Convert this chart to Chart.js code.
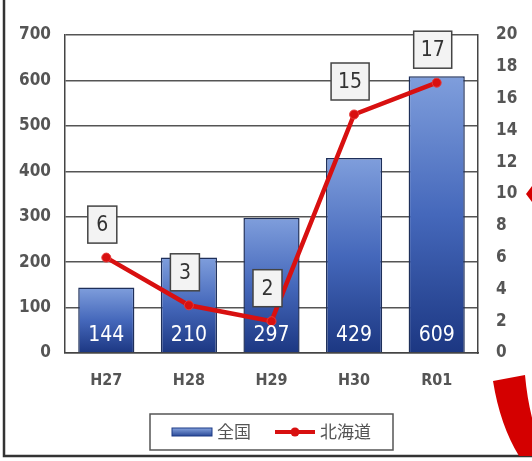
<!DOCTYPE html>
<html>
<head>
<meta charset="utf-8">
<script src="https://cdn.jsdelivr.net/npm/chart.js@4.4.0/dist/chart.umd.min.js"></script>
<style>
  html, body { margin: 0; padding: 0; background: #fff; }
  #wrap { width: 532px; height: 461px; position: relative; }
</style>
</head>
<body>
<div id="wrap"><canvas id="myChart" width="532" height="461"></canvas></div>
<script>
// data
var years = ['H27', 'H28', 'H29', 'H30', 'R01'];
var zenkoku = [144, 210, 297, 429, 609];
var hokkaido = [6, 3, 2, 15, 17];
var leftTicks = [0, 100, 200, 300, 400, 500, 600, 700];
var rightTicks = [0, 2, 4, 6, 8, 10, 12, 14, 16, 18, 20];

var narrow = "'Liberation Sans Narrow', 'DejaVu Sans Condensed', 'Roboto', sans-serif";
var jp = "'Noto Sans CJK JP', sans-serif";

// each bar: light at its top, dark navy at the base
function barFill(context) {
  var chart = context.chart;
  var area = chart.chartArea;
  if (!area || context.type !== 'data') return '#3a5fb0';
  var top = chart.scales.y.getPixelForValue(context.raw);
  var g = chart.ctx.createLinearGradient(0, top, 0, area.bottom);
  g.addColorStop(0, '#7f9edc');
  g.addColorStop(0.5, '#4568bb');
  g.addColorStop(1, '#1c3782');
  return g;
}

var extras = {
  id: 'extras',
  beforeDraw: function(chart) {
    var ctx = chart.ctx;
    ctx.save();
    ctx.fillStyle = '#fff';
    ctx.fillRect(0, 0, chart.width, chart.height);
    ctx.strokeStyle = '#333';
    ctx.lineWidth = 2.5;
    ctx.beginPath();
    ctx.moveTo(4, 0);
    ctx.lineTo(4, 456);
    ctx.lineTo(532, 456);
    ctx.stroke();
    ctx.restore();
  },
  afterDatasetsDraw: function(chart) {
    var ctx = chart.ctx;
    ctx.save();
    ctx.textAlign = 'center';
    ctx.textBaseline = 'middle';
    // bar values inside bars
    var bars = chart.getDatasetMeta(1).data;
    ctx.font = '21px ' + narrow;
    ctx.fillStyle = '#ffffff';
    bars.forEach(function(b, i) {
      ctx.fillText(zenkoku[i], b.x, chart.chartArea.bottom - 17);
    });
    // boxed line values
    var pts = chart.getDatasetMeta(0).data;
    ctx.font = '21px ' + narrow;
    pts.forEach(function(p, i) {
      var t = String(hokkaido[i]);
      var w = Math.max(29, ctx.measureText(t).width + 14);
      var h = 37;
      var cx = p.x - 4, cy = p.y - 33;
      ctx.fillStyle = '#f3f3f3';
      ctx.fillRect(cx - w / 2, cy - h / 2, w, h);
      ctx.strokeStyle = '#444';
      ctx.lineWidth = 1.5;
      ctx.strokeRect(cx - w / 2, cy - h / 2, w, h);
      ctx.fillStyle = '#333';
      ctx.fillText(t, cx, cy + 1);
    });
    ctx.restore();
  },
  afterDraw: function(chart) {
    var ctx = chart.ctx;
    ctx.save();
    // legend: 全国 then 北海道
    var bar = chart.data.datasets[1], line = chart.data.datasets[0];
    ctx.font = '17px ' + jp;
    ctx.textBaseline = 'middle';
    var w1 = ctx.measureText(bar.label).width;
    var w2 = ctx.measureText(line.label).width;
    var total = 40 + 5 + w1 + 24 + 40 + 5 + w2;
    var cx = (chart.chartArea.left + chart.chartArea.right) / 2;
    var cy = 432;
    var x = cx - total / 2;
    ctx.strokeStyle = '#555';
    ctx.lineWidth = 1.5;
    ctx.strokeRect(x - 22, cy - 18, total + 44, 36);
    var g = ctx.createLinearGradient(0, cy - 4, 0, cy + 4);
    g.addColorStop(0, '#86a3de');
    g.addColorStop(1, '#2a4a98');
    ctx.fillStyle = g;
    ctx.fillRect(x, cy - 4, 40, 8);
    ctx.strokeStyle = '#1d3a86';
    ctx.lineWidth = 1;
    ctx.strokeRect(x, cy - 4, 40, 8);
    ctx.fillStyle = '#555';
    ctx.fillText(bar.label, x + 45, cy);
    x += 45 + w1 + 24;
    ctx.strokeStyle = '#d81010';
    ctx.lineWidth = 4;
    ctx.beginPath();
    ctx.moveTo(x, cy);
    ctx.lineTo(x + 40, cy);
    ctx.stroke();
    ctx.fillStyle = '#d81010';
    ctx.beginPath();
    ctx.arc(x + 20, cy, 4.5, 0, Math.PI * 2);
    ctx.fill();
    ctx.fillStyle = '#555';
    ctx.fillText(line.label, x + 45, cy);
    // red decoration cut off at the right edge
    ctx.fillStyle = '#d40000';
    ctx.beginPath();
    ctx.moveTo(493, 381);
    ctx.lineTo(525, 375);
    ctx.quadraticCurveTo(529, 420, 545, 456);
    ctx.lineTo(519, 456);
    ctx.quadraticCurveTo(500, 425, 493, 381);
    ctx.closePath();
    ctx.fill();
    ctx.beginPath();
    ctx.moveTo(532, 186);
    ctx.lineTo(526, 194);
    ctx.lineTo(532, 202);
    ctx.closePath();
    ctx.fill();
    ctx.restore();
  }
};

var ctx = document.getElementById('myChart');
var myChart = new Chart(ctx, {
  data: {
    labels: years,
    datasets: [{
      type: 'line',
      label: '北海道',
      data: hokkaido,
      yAxisID: 'y2',
      borderColor: '#d81010',
      backgroundColor: '#d81010',
      borderWidth: 4.5,
      pointRadius: 4.5,
      pointBackgroundColor: '#d81010',
      pointBorderColor: '#e63a3a',
      pointBorderWidth: 1,
      tension: 0,
      order: 0
    }, {
      type: 'bar',
      label: '全国',
      data: zenkoku,
      yAxisID: 'y',
      backgroundColor: barFill,
      borderColor: '#1e2f5a',
      borderWidth: 1.5,
      categoryPercentage: 0.68,
      barPercentage: 1,
      order: 1
    }]
  },
  options: {
    responsive: false,
    animation: false,
    layout: { padding: { top: 35, bottom: 68, left: 0, right: 0 } },
    plugins: {
      legend: { display: false },
      tooltip: { enabled: false }
    },
    scales: {
      x: {
        grid: { display: false },
        border: { display: true, color: '#444', width: 1.5 },
        ticks: { color: '#555', font: { family: narrow, size: 16, weight: 'bold' }, padding: 10 },
        afterFit: function(s) { s.height = 40; }
      },
      y: {
        position: 'left',
        min: 0, max: 700,
        afterBuildTicks: function(s) { s.ticks = leftTicks.map(function(v) { return { value: v }; }); },
        grid: { color: '#555', lineWidth: 1.5, drawTicks: false },
        border: { display: true, color: '#444', width: 1.5 },
        ticks: { color: '#555', font: { family: narrow, size: 17, weight: 'bold' }, padding: 14 },
        afterFit: function(s) { s.width = 65; }
      },
      y2: {
        position: 'right',
        min: 0, max: 20,
        afterBuildTicks: function(s) { s.ticks = rightTicks.map(function(v) { return { value: v }; }); },
        grid: { display: false, drawTicks: false },
        border: { display: true, color: '#444', width: 1.5 },
        ticks: { color: '#555', font: { family: narrow, size: 17, weight: 'bold' }, padding: 18 },
        afterFit: function(s) { s.width = 54; }
      }
    }
  },
  plugins: [extras]
});
</script>
</body>
</html>
